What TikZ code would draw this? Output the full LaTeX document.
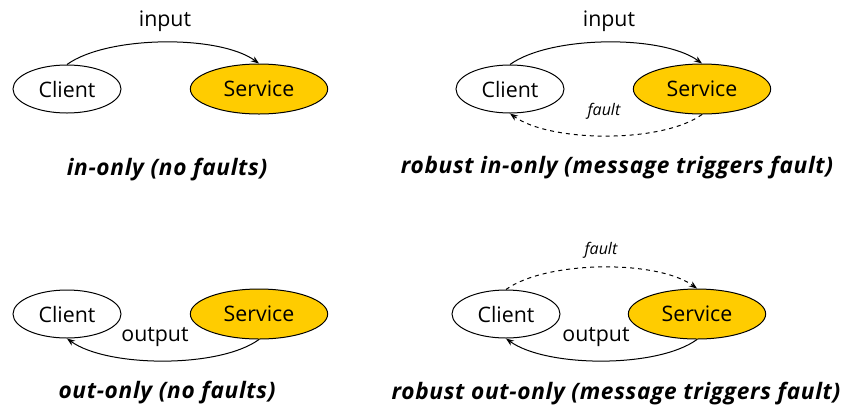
\documentclass[tikz,border=0pt]{standalone}
\usepackage{fontspec}
\setmainfont{Open Sans}
\usetikzlibrary{shapes.geometric,arrows.meta}

\definecolor{servicegold}{RGB}{255,204,0}

\tikzset{every picture/.style={line width=0.75pt}}
\tikzset{
  client/.style={ellipse,draw,fill=white,minimum width=81pt,minimum height=36pt,
    inner sep=0pt,font=\fontsize{16}{19}\selectfont},
  service/.style={client,fill=servicegold,minimum width=103pt,minimum height=37.5pt},
  msg/.style={-{Stealth[length=6pt,width=4.5pt]}},
  faultmsg/.style={msg,dashed},
  msglabel/.style={inner sep=0.75pt,font=\fontsize{16}{19}\selectfont},
  faultlabel/.style={inner sep=0.75pt,font=\fontsize{12}{14}\selectfont\itshape},
  caption/.style={inner sep=0.75pt,
    font=\fontsize{17}{20}\selectfont\bfseries\itshape\addfontfeature{LetterSpace=3}}
}

\begin{document}
\begin{tikzpicture}[x=0.75pt,y=0.75pt,yscale=-1,xscale=1]
\useasboundingbox (0,0) rectangle (845,408);

% in-only
\node[client] (c1) at (67,89) {Client};
\node[service] (s1) at (259,89) {Service};
\draw[msg] (c1.north) .. controls +(40,-29) and +(-40,-29) .. (s1.north);
\node[msglabel] (in1) at (165,21) {input};
\node[caption] (cap1) at (167,170) {in-only (no faults)};

% robust in-only
\node[client] (c2) at (510,89) {Client};
\node[service] (s2) at (702,89) {Service};
\draw[msg] (c2.north) .. controls +(40,-29) and +(-40,-29) .. (s2.north);
\draw[faultmsg] (s2.south) .. controls +(-40,29) and +(40,29) .. (c2.south);
\node[msglabel] (in2) at (609,21) {input};
\node[faultlabel] (f2) at (604,111) {fault};
\node[caption] (cap2) at (617,168) {robust in-only (message triggers fault)};

% out-only
\node[client] (c3) at (67,314) {Client};
\node[service] (s3) at (259,314) {Service};
\draw[msg] (s3.south) .. controls +(-40,29) and +(40,29) .. (c3.south);
\node[msglabel] (out3) at (155,337) {output};
\node[caption] (cap3) at (167,393) {out-only (no faults)};

% robust out-only
\node[client] (c4) at (506,314) {Client};
\node[service] (s4) at (697,314) {Service};
\draw[faultmsg] (c4.north) .. controls +(40,-29) and +(-40,-29) .. (s4.north);
\draw[msg] (s4.south) .. controls +(-40,29) and +(40,29) .. (c4.south);
\node[faultlabel] (f4) at (601,250) {fault};
\node[msglabel] (out4) at (596,337) {output};
\node[caption] (cap4) at (616,394) {robust out-only (message triggers fault)};

\end{tikzpicture}
\end{document}
